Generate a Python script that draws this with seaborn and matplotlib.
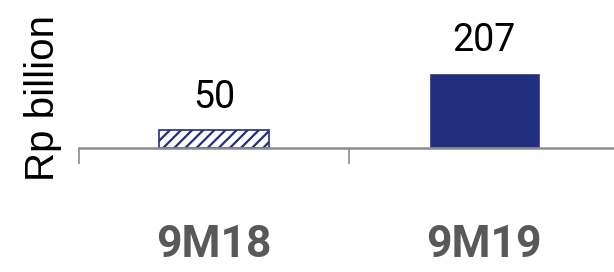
import matplotlib
matplotlib.use("Agg")
import matplotlib.pyplot as plt
import seaborn as sns
import pandas as pd

periods = ["9M18", "9M19"]
values = [50, 207]

navy = "#222f80"
gray = "#595959"
axis_gray = "#8c8c8c"

sns.set_style("white")
plt.rcParams["font.family"] = ["Roboto", "DejaVu Sans"]
plt.rcParams["hatch.color"] = navy
plt.rcParams["hatch.linewidth"] = 1.6

df = pd.DataFrame({"period": periods, "value": values})

fig = plt.figure(figsize=(6.14, 2.72), dpi=100)
ax = fig.add_axes([79 / 614, 124 / 272, 535 / 614, 148 / 272])

sns.barplot(data=df, x="period", y="value", ax=ax, width=0.41,
            palette=[navy, navy], hue="period", legend=False, saturation=1)

# first bar: white with diagonal hatching
p0 = ax.patches[0]
p0.set_facecolor("white")
p0.set_edgecolor(navy)
p0.set_hatch("///")
p0.set_linewidth(1.2)

ax.set_xlim(-0.5, 1.48)
ax.set_ylim(0, 408)

for i, v in enumerate(values):
    ax.annotate(str(v), (i, v), xytext=(0, 16), textcoords="offset points",
                ha="center", va="baseline", fontsize=27, color="black")

for s in ["top", "right", "left"]:
    ax.spines[s].set_visible(False)
ax.spines["bottom"].set_color(axis_gray)
ax.spines["bottom"].set_linewidth(1.8)

ax.set_yticks([])
ax.set_xticks([0, 1])
ax.set_xticks([-0.5, 0.5], minor=True)
ax.tick_params(axis="x", which="major", bottom=True, length=0, pad=55)
ax.tick_params(axis="x", which="minor", bottom=True, length=11.5, width=1.2,
               color=axis_gray, direction="out")
ax.set_xticklabels(periods, fontsize=32, fontweight="bold", color=gray)
ax.set_xlabel("")
ax.set_ylabel("")

fig.text(43 / 614, 1 - 98 / 272, "Rp billion", rotation=90, ha="center", va="center",
         fontsize=29, family=["Liberation Sans", "DejaVu Sans"], color="black")

fig.savefig("out.png", dpi=100)
